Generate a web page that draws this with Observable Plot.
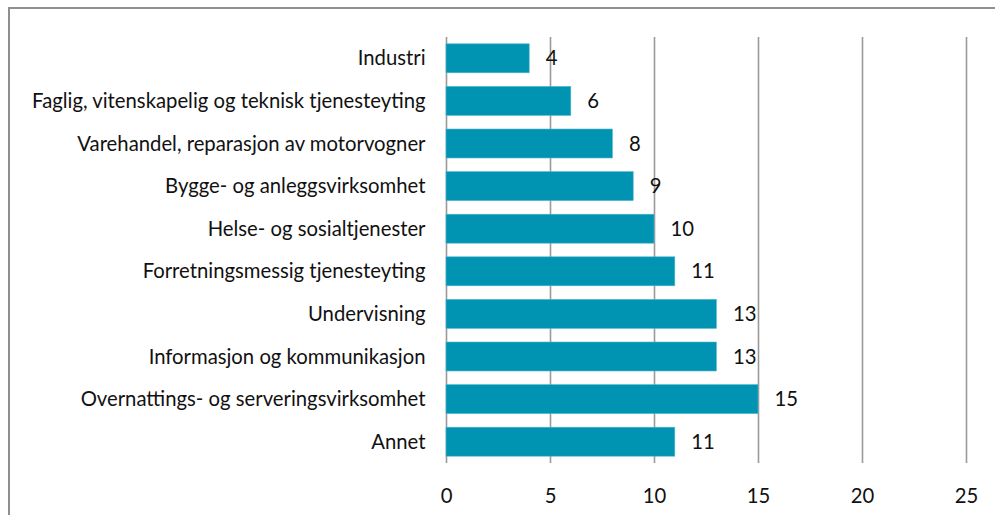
<!DOCTYPE html>
<html>
<head>
<meta charset="utf-8">
<script src="https://cdn.jsdelivr.net/npm/d3@7"></script>
<script src="https://cdn.jsdelivr.net/npm/@observablehq/plot@0.6"></script>
<style>
  html, body { margin: 0; padding: 0; background: #fff; overflow: hidden; }
  #wrap { position: relative; width: 995px; height: 515px; overflow: hidden; }
  #border { position: absolute; left: 8px; top: 7px; width: 1100px; height: 700px; border: 2px solid #8f8f8f; box-sizing: border-box; pointer-events: none; }
</style>
</head>
<body>
<div id="wrap"><div id="border"></div></div>
<script>
const categories = [
  "Industri",
  "Faglig, vitenskapelig og teknisk tjenesteyting",
  "Varehandel, reparasjon av motorvogner",
  "Bygge- og anleggsvirksomhet",
  "Helse- og sosialtjenester",
  "Forretningsmessig tjenesteyting",
  "Undervisning",
  "Informasjon og kommunikasjon",
  "Overnattings- og serveringsvirksomhet",
  "Annet"
];
const values = [4, 6, 8, 9, 10, 11, 13, 13, 15, 11];
const xTicks = [0, 5, 10, 15, 20, 25];

const data = categories.map((c, i) => ({category: c, value: values[i]}));

const chart = Plot.plot({
  width: 995,
  height: 515,
  marginLeft: 446,
  marginRight: 29,
  marginTop: 37,
  marginBottom: 52,
  style: {fontFamily: "Lato, 'Open Sans', sans-serif", fontSize: "20.3px", color: "#111", background: "transparent"},
  x: {domain: [0, 25], ticks: xTicks, tickSize: 0, tickPadding: 25, label: null},
  y: {domain: categories, paddingInner: 0.32, paddingOuter: 0.16, round: false, tickSize: 0, tickPadding: 21, label: null},
  marks: [
    Plot.ruleX(xTicks, {stroke: "#9a9a9a", strokeWidth: 1.6}),
    Plot.barX(data, {x: "value", y: "category", fill: "#0093b2", stroke: "#4fb6cc", strokeWidth: 0.6}),
    Plot.text(data, {x: "value", y: "category", text: d => String(d.value), textAnchor: "start", dx: 16, fontSize: 20.3, fill: "#111"})
  ]
});
document.getElementById("wrap").prepend(chart);
</script>
</body>
</html>
